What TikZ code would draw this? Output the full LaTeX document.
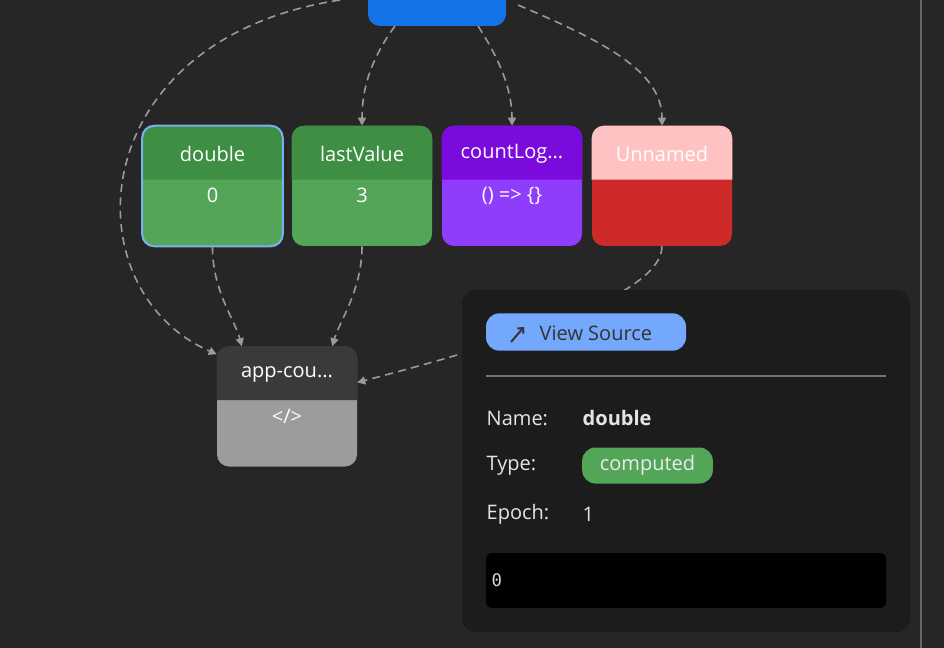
\documentclass[tikz,border=0pt]{standalone}
\usepackage{fontspec}
\setmainfont{Open Sans}
\setmonofont{DejaVu Sans Mono}
\usetikzlibrary{calc,arrows.meta}
\definecolor{bg}{HTML}{262626}
\definecolor{panel}{HTML}{1C1C1C}
\definecolor{topblue}{HTML}{1473E6}
\definecolor{grhead}{HTML}{3E8E44}
\definecolor{grbody}{HTML}{53A557}
\definecolor{puhead}{HTML}{7B0BDD}
\definecolor{pubody}{HTML}{8F3DFA}
\definecolor{pkhead}{HTML}{FFC2C2}
\definecolor{rdbody}{HTML}{CF2A2A}
\definecolor{gyhead}{HTML}{3A3A3A}
\definecolor{gybody}{HTML}{9C9C9C}
\definecolor{edge}{HTML}{9A9A9A}
\definecolor{pill}{HTML}{73A8FC}
\definecolor{sel}{HTML}{7AB0F0}
\tikzset{
  sigbox/.style={rounded corners=9, minimum width=105pt, minimum height=90pt, inner sep=0pt},
  dep/.style={draw=edge, dashed, dash pattern=on 6pt off 4pt, line width=1.2pt,
    -{Triangle[length=6pt,width=6pt]}},
  lbl/.style={text=white, font=\fontsize{15}{17}\selectfont},
  info/.style={text=white!90!black, font=\fontsize{15}{17}\selectfont, anchor=west},
}
% header band and texts of a box
\newcommand{\hdband}[2]{%
  \fill[#2] ($(#1.north west)+(0,54)$) [rounded corners=9]-- (#1.north west) -- (#1.north east) [sharp corners]-- ($(#1.north east)+(0,54)$) -- cycle;}
\newcommand{\sigtext}[3]{%
  \node[lbl] at ($(#1.north)+(0,28)$) {#2};
  \node[lbl] at ($(#1.north)+(0,70)$) {#3};}
\begin{document}
\begin{tikzpicture}[x=0.75pt,y=-0.75pt]
  \fill[bg] (0,0) rectangle (944,648);
  \useasboundingbox (0,0) rectangle (944,648);
  \draw[black!60, line width=1pt] (921,0) -- (921,648);

  % source node on top
  \fill[topblue, rounded corners=9] (368,-20) rectangle (506,26);
  \coordinate (srcl) at (340,0);

  % signal nodes
  \node[sigbox, fill=grbody] (dbl) at (212.5,186) {};
  \hdband{dbl}{grhead}
  \draw[sel, line width=1.5pt, rounded corners=9] (dbl.north west) rectangle (dbl.south east);
  \node[sigbox, fill=grbody] (last) at (362,186) {};
  \hdband{last}{grhead}
  \node[sigbox, fill=pubody] (clog) at (512,186) {};
  \hdband{clog}{puhead}
  \node[sigbox, fill=rdbody] (unn) at (662,186) {};
  \hdband{unn}{pkhead}
  \node[sigbox, fill=gybody] (app) at (287,406.5) {};
  \hdband{app}{gyhead}

  \sigtext{dbl}{double}{0}
  \sigtext{last}{lastValue}{3}
  \sigtext{clog}{countLog...}{() => \{\}}
  \sigtext{unn}{Unnamed}{}
  \sigtext{app}{app-cou...}{</>}

  % dependencies
  \draw[dep] (srcl) .. controls (80,40) and (70,290) .. ($(app.north west)+(0,8)$);
  \draw[dep] (395,26) .. controls (370,60) and (362,90) .. (last.north);
  \draw[dep] (478,26) .. controls (500,60) and (512,90) .. (clog.north);
  \draw[dep] (518,5) .. controls (600,40) and (662,70) .. (unn.north);
  \draw[dep] (dbl.south) .. controls (212,290) and (235,320) .. ($(app.north west)+(25,0)$);
  \draw[dep] (last.south) .. controls (362,290) and (340,320) .. ($(app.north east)+(-25,0)$);
  \draw[dep] (unn.south) .. controls (662,300) and (480,350) .. ($(app.east)+(0,-24)$);

  % detail panel
  \fill[panel, rounded corners=10] (462,290) rectangle (910,632);
  \node[fill=pill, rounded corners=10, minimum width=150pt, minimum height=28pt, inner sep=0pt] (vsrc) at (586,332) {};
  \node[text=black!80, font=\fontsize{15}{17}\selectfont, anchor=west] at (535,333) {View Source};
  \draw[black!80, line width=1.5pt, -{Straight Barb[length=3pt]}] (511,342) -- (524,327);
  \draw[white!45!black, line width=0.8pt] (486,376) -- (886,376);
  \node[info] at (482,418) {Name:};
  \node[info, font=\fontsize{15}{17}\selectfont\bfseries] at (578,418) {double};
  \node[info] at (482,466) {Type:};
  \node[fill=grbody, rounded corners=10, minimum width=98pt, minimum height=27pt, inner sep=0pt, text=white!92!black, font=\fontsize{15}{17}\selectfont] (ty) at (647.5,465.5) {computed};
  \node[info] at (482,514) {Epoch:};
  \node[info] at (578,514) {1};
  \fill[black, rounded corners=4] (486,553) rectangle (886,608);
  \node[anchor=west, text=white!85!black, font=\ttfamily\fontsize{13}{15}\selectfont] at (487,580) {0};
\end{tikzpicture}
\end{document}
